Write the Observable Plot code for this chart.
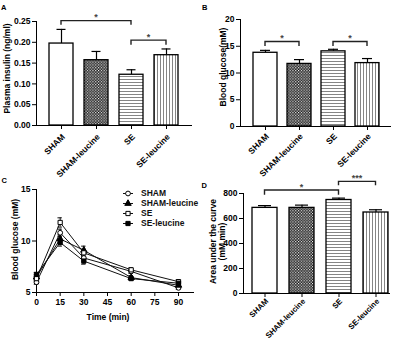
<!DOCTYPE html>
<html><head><meta charset="utf-8">
<script src="https://cdn.jsdelivr.net/npm/d3@7"></script>
<script src="https://cdn.jsdelivr.net/npm/@observablehq/plot@0.6"></script>
<style>
body{margin:0;background:#fff;}
#fig{position:relative;width:400px;height:342px;overflow:hidden;font-family:"Liberation Sans",Arial,sans-serif;background:#fff;}
.panel{position:absolute;}
.letter{position:absolute;font-weight:bold;font-size:7.5px;line-height:7.5px;color:#000;}
</style></head><body>
<div id="fig"></div>
<script>
// ---------- data ----------
const groups = ["SHAM", "SHAM-leucine", "SE", "SE-leucine"];
const groupFill = ["white", "url(#checker)", "url(#hlines)", "url(#vlines)"];

// Panel A: plasma insulin (ng/ml)
const insulin = [0.197, 0.157, 0.122, 0.169];
const insulinErr = [0.034, 0.021, 0.012, 0.015];
const insulinTicks = [0, 0.05, 0.10, 0.15, 0.20, 0.25];
const insulinSig = [
  {from: "SHAM", to: "SE", y: 0.251, drop: 0.010, label: "*"},
  {from: "SE", to: "SE-leucine", y: 0.204, drop: 0.011, label: "*"}
];

// Panel B: blood glucose (mM)
const glucose = [13.78, 11.7, 14.05, 11.85];
const glucoseErr = [0.45, 0.8, 0.38, 0.85];
const glucoseTicks = [0, 5, 10, 15, 20];
const glucoseSig = [
  {from: "SHAM", to: "SHAM-leucine", y: 15.8, drop: 0.85, label: "*"},
  {from: "SE", to: "SE-leucine", y: 15.8, drop: 0.85, label: "*"}
];

// Panel C: glucose tolerance over time
const times = [0, 15, 30, 60, 90];
const timeTicks = [0, 15, 30, 45, 60, 75, 90];
const ogttTicks = [5, 10, 15];
const ogttSHAM = [6.0, 10.8, 8.35, 7.05, 5.45];
const ogttSHAMLeu = [6.5, 10.2, 9.1, 6.45, 5.7];
const ogttSE = [6.35, 11.8, 8.85, 7.2, 6.05];
const ogttSELeu = [6.75, 9.85, 8.05, 6.35, 5.9];
const ogttSHAMErr = [0.2, 0.35, 0.3, 0.2, 0.15];
const ogttSHAMLeuErr = [0.25, 0.4, 0.4, 0.2, 0.2];
const ogttSEErr = [0.25, 0.45, 0.35, 0.2, 0.2];
const ogttSELeuErr = [0.2, 0.35, 0.3, 0.15, 0.15];
const seriesSymbol = ["circle", "triangle", "square", "square"];
const seriesFill = ["white", "black", "white", "black"];

// Panel D: area under the curve (mM.min)
const auc = [685, 685, 748, 648];
const aucErr = [18, 22, 15, 22];
const aucTicks = [0, 200, 400, 600, 800];
const aucSig = [
  {from: "SHAM", to: "SE", y: 824, drop: 37, label: "*"},
  {from: "SE", to: "SE-leucine", y: 893, drop: 31, label: "***"}
];

// ---------- helpers ----------
const FONT = "'Liberation Sans', Arial, sans-serif";
const fig = document.getElementById("fig");

// pattern definitions
const defs = d3.select(fig).append("svg")
  .attr("width", 0).attr("height", 0)
  .style("position", "absolute").style("left", 0).style("top", 0)
  .append("defs");
{
  const c = defs.append("pattern").attr("id", "checker").attr("patternUnits", "userSpaceOnUse")
    .attr("width", 2.8).attr("height", 2.8);
  c.append("rect").attr("width", 2.8).attr("height", 2.8).attr("fill", "#111");
  c.append("rect").attr("x", 0).attr("y", 0).attr("width", 1.2).attr("height", 1.2).attr("fill", "#fff");
  c.append("rect").attr("x", 1.4).attr("y", 1.4).attr("width", 1.2).attr("height", 1.2).attr("fill", "#fff");
  const h = defs.append("pattern").attr("id", "hlines").attr("patternUnits", "userSpaceOnUse")
    .attr("width", 4).attr("height", 3);
  h.append("rect").attr("width", 4).attr("height", 3).attr("fill", "#fff");
  h.append("line").attr("x1", 0).attr("x2", 4).attr("y1", 1.5).attr("y2", 1.5)
    .attr("stroke", "#777").attr("stroke-width", 0.9);
  const v = defs.append("pattern").attr("id", "vlines").attr("patternUnits", "userSpaceOnUse")
    .attr("width", 3).attr("height", 4);
  v.append("rect").attr("width", 3).attr("height", 4).attr("fill", "#fff");
  v.append("line").attr("y1", 0).attr("y2", 4).attr("x1", 1.5).attr("x2", 1.5)
    .attr("stroke", "#777").attr("stroke-width", 0.9);
}

function place(node, left, top) {
  node.classList.add("panel");
  node.style.left = left + "px";
  node.style.top = top + "px";
  fig.appendChild(node);
}
function letter(t, left, top) {
  const d = document.createElement("div");
  d.className = "letter"; d.textContent = t;
  d.style.left = left + "px"; d.style.top = top + "px";
  fig.appendChild(d);
}

function brackets(list, fs) {
  return (index, scales) => {
    const {x, y} = scales;
    const bw = x.bandwidth ? x.bandwidth() : 0;
    const g = d3.create("svg:g");
    for (const b of list) {
      const x1 = x(b.from) + bw / 2, x2 = x(b.to) + bw / 2;
      const yt = y(b.y), yl = y(b.y - b.drop);
      g.append("path")
        .attr("d", `M${x1},${yl}V${yt}H${x2}V${yl}`)
        .attr("fill", "none").attr("stroke", "#222").attr("stroke-width", 1.4);
      g.append("text")
        .attr("x", (x1 + x2) / 2).attr("y", yt - 0.5)
        .attr("text-anchor", "middle")
        .attr("font-family", FONT).attr("font-weight", "bold").attr("font-size", fs || 9)
        .attr("fill", "#444")
        .text(b.label);
    }
    return g.node();
  };
}

const baseStyle = {fontFamily: FONT, fontSize: "8.5px", fontWeight: "bold", color: "#000", background: "transparent", overflow: "visible"};

function yLabel(label, dx, dy) {
  return Plot.text([label], {frameAnchor: "left", rotate: -90, textAnchor: "middle", lineAnchor: "middle",
    dx, dy, fontSize: 8.5, fontWeight: "bold", lineHeight: 1.0, fill: "black"});
}

function barPanel({values, errs, ticks, tickFormat, sig, margins, xRange, pInner, capInset, label, labelDx, labelDy, domain, catDy, catSize}) {
  const rows = groups.map((g, i) => ({group: g, value: values[i], err: errs[i], fill: groupFill[i]}));
  return Plot.plot({
    width: 200, height: 171,
    ...margins,
    style: baseStyle,
    color: {type: "identity"},
    x: {domain: groups, range: xRange, paddingInner: pInner, paddingOuter: pInner / 2,
        tickSize: 4, tickFormat: () => "", line: true, label: null},
    y: {domain, ticks, tickFormat, tickSize: 4, tickPadding: 2, line: true, label: null},
    marks: [
      Plot.ruleX(rows, {x: "group", y1: "value", y2: d => d.value + d.err, stroke: "black", strokeWidth: 1.2}),
      Plot.tickY(rows, {x: "group", y: d => d.value + d.err, stroke: "black", strokeWidth: 1.2, insetLeft: capInset, insetRight: capInset}),
      Plot.barY(rows, {x: "group", y: "value", fill: "fill", stroke: "black", strokeWidth: 1.3}),
      brackets(sig),
      // rotated category labels
      Plot.text(groups, {x: d => d, frameAnchor: "bottom", rotate: -45, textAnchor: "end", lineAnchor: "middle",
        dx: 2, dy: catDy, fontSize: catSize || 8.5, fontWeight: "bold", fill: "black"}),
      yLabel(label, labelDx, labelDy)
    ]
  });
}

// ---------- Panel A ----------
place(barPanel({
  values: insulin, errs: insulinErr, ticks: insulinTicks, tickFormat: ".2f", sig: insulinSig,
  domain: [0, 0.25],
  margins: {marginLeft: 36, marginRight: 9, marginTop: 21, marginBottom: 46},
  xRange: [42.2, 184.8], pInner: 0.327, capInset: 7.5, catDy: 10,
  label: "Plasma insulin (ng/ml)", labelDx: -29, labelDy: -5
}), 0, 0);
letter("A", 1, 4);

// ---------- Panel B ----------
place(barPanel({
  values: glucose, errs: glucoseErr, ticks: glucoseTicks, tickFormat: d => String(d), sig: glucoseSig,
  domain: [0, 20],
  margins: {marginLeft: 40, marginRight: 10, marginTop: 19, marginBottom: 45},
  xRange: [48, 184], pInner: 0.294, capInset: 7, catDy: 8.5,
  label: "Blood glucose(mM)", labelDx: -17, labelDy: -6
}), 200, 0);
letter("B", 202, 3.5);

// ---------- Panel C ----------
const seriesVals = [ogttSHAM, ogttSHAMLeu, ogttSE, ogttSELeu];
const seriesErrs = [ogttSHAMErr, ogttSHAMLeuErr, ogttSEErr, ogttSELeuErr];
const ogtt = [];
groups.forEach((g, s) => times.forEach((t, i) =>
  ogtt.push({series: g, t, v: seriesVals[s][i], e: seriesErrs[s][i], fill: seriesFill[s]})));

place(Plot.plot({
  width: 200, height: 171,
  marginLeft: 36, marginRight: 7, marginTop: 18, marginBottom: 50,
  style: baseStyle,
  color: {type: "identity"},
  symbol: {domain: groups, range: seriesSymbol},
  x: {domain: [0, 99.5], ticks: timeTicks, tickSize: 4, tickPadding: 2, line: true, label: null},
  y: {domain: [5, 15], ticks: ogttTicks, tickSize: 4, tickPadding: 2, line: true, label: null},
  marks: [
    Plot.line(ogtt, {x: "t", y: "v", z: "series", stroke: "#111", strokeWidth: 1}),
    Plot.ruleX(ogtt, {x: "t", y1: d => d.v - d.e, y2: d => d.v + d.e, stroke: "#111", strokeWidth: 1}),
    Plot.ruleY(ogtt, {y: d => d.v + d.e, x1: d => d.t - 1.4, x2: d => d.t + 1.4, stroke: "#111", strokeWidth: 1}),
    Plot.ruleY(ogtt, {y: d => d.v - d.e, x1: d => d.t - 1.4, x2: d => d.t + 1.4, stroke: "#111", strokeWidth: 1}),
    Plot.dot(ogtt, {x: "t", y: "v", symbol: "series", fill: "fill", stroke: "black", strokeWidth: 1, r: 2.4}),
    yLabel("Blood glucose (mM)", -21.5, -1.5),
    Plot.text(["Time (min)"], {frameAnchor: "bottom", lineAnchor: "middle", dx: -7, dy: 25, fontSize: 8.5, fontWeight: "bold", fill: "black"})
  ]
}), 0, 171);
letter("C", 1.5, 177);

// legend for panel C
{
  const lg = d3.select(fig).append("svg")
    .attr("width", 80).attr("height", 44)
    .style("position", "absolute").style("left", "120px").style("top", "187px")
    .style("overflow", "visible");
  const sym = {circle: d3.symbolCircle, triangle: d3.symbolTriangle, square: d3.symbolSquare};
  groups.forEach((g, i) => {
    const yy = 6.5 + i * 10;
    lg.append("line").attr("x1", 3).attr("x2", 13).attr("y1", yy).attr("y2", yy)
      .attr("stroke", "#111").attr("stroke-width", 1);
    lg.append("path")
      .attr("d", d3.symbol(sym[seriesSymbol[i]], 18)())
      .attr("transform", `translate(8,${yy})`)
      .attr("fill", seriesFill[i]).attr("stroke", "black").attr("stroke-width", 1);
    lg.append("text").attr("x", 21).attr("y", yy).attr("dy", "0.35em")
      .attr("font-family", FONT).attr("font-weight", "bold").attr("font-size", 8.5)
      .attr("fill", "#111").text(g);
  });
}

// ---------- Panel D ----------
place(barPanel({
  values: auc, errs: aucErr, ticks: aucTicks, tickFormat: d => String(d), sig: aucSig,
  domain: [0, 800],
  margins: {marginLeft: 43, marginRight: 11, marginTop: 22, marginBottom: 49},
  xRange: [44.75, 194.75], pInner: 0.333, capInset: 6, catDy: 6.5, catSize: 7.8,
  label: "Area under the curve\n(mM.min)", labelDx: -25.5, labelDy: -2
}), 200, 171);
letter("D", 201.5, 181.5);
</script>
</body></html>
